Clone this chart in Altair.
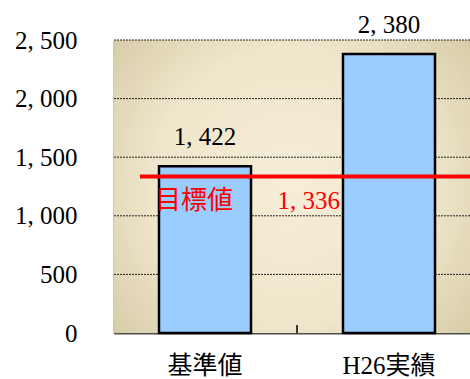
import altair as alt
import pandas as pd

categories = ["基準値", "H26実績"]
values = [1422, 2380]
target_value = 1336
target_name = "目標値"
y_ticks = [0, 500, 1000, 1500, 2000, 2500]

SERIF = "Liberation Serif, Noto Sans CJK JP"
FMT = "replace(format(datum.value, ','), ',', ',\u00a0')"

bars_df = pd.DataFrame({"cat": categories, "value": values})
target_df = pd.DataFrame({"value": [target_value], "name": [target_name]})
grid_df = pd.DataFrame({"value": y_ticks})

xscale = alt.Scale(domain=categories, paddingInner=0.5, paddingOuter=0.2174,
                   align=0.5625, round=False)
yscale = alt.Scale(domain=[0, 2500], nice=False)

x_axis = alt.Axis(title=None, labelFont=SERIF, labelFontSize=25, labelColor="black",
                  labelPadding=20, ticks=False, domainColor="#4d4d4d", domainWidth=2,
                  labelAngle=0, grid=False)
y_axis = alt.Axis(title=None, values=y_ticks,
                  labelExpr=FMT,
                  labelFont=SERIF, labelFontSize=25, labelColor="black",
                  labelPadding=37, ticks=False, domainColor="#222222", domainWidth=1.5,
                  grid=False)

bg_grad = alt.RadialGradient(
    gradient="radial", x1=0.5, y1=0.5, r1=0, x2=0.5, y2=0.5, r2=0.72,
    stops=[
        alt.GradientStop(offset=0, color="#F7EED8"),
        alt.GradientStop(offset=0.55, color="#EEE5CA"),
        alt.GradientStop(offset=1, color="#D2C59E"),
    ],
)

background = alt.Chart(pd.DataFrame({"k": [0]})).mark_rect(color=bg_grad).encode(
    x=alt.value(0), x2=alt.value(356), y=alt.value(0), y2=alt.value(293)
)

gridlines = alt.Chart(grid_df).transform_filter(alt.datum.value > 0).mark_rule(
    color="#222222", strokeDash=[2, 1], strokeWidth=1
).encode(
    y=alt.Y("value:Q", scale=yscale, axis=y_axis),
)

base = alt.Chart(bars_df)

bars = base.mark_bar(color="#99CCFF", stroke="black", strokeWidth=2.5).encode(
    x=alt.X("cat:N", scale=xscale, axis=x_axis, sort=categories),
    y=alt.Y("value:Q", scale=yscale, axis=y_axis),
)

labels = base.transform_calculate(
    lbl=FMT
).mark_text(font=SERIF, fontSize=25, color="black", baseline="bottom", dy=-16).encode(
    x=alt.X("cat:N", scale=xscale, sort=categories, bandPosition=0.5),
    y=alt.Y("value:Q", scale=yscale, axis=y_axis),
    text="lbl:N",
)

tick = alt.Chart(pd.DataFrame({"k": [0]})).mark_rule(color="black", strokeWidth=1.5).encode(
    x=alt.value(183),
    y=alt.value(285),
    y2=alt.value(293),
)

target_line = alt.Chart(target_df).mark_rule(color="#FF0000", strokeWidth=4).encode(
    y=alt.Y("value:Q", scale=yscale, axis=y_axis),
    x=alt.value(26),
    x2=alt.value(356),
)

target_name_text = alt.Chart(target_df).transform_calculate(
    cat=f"'{categories[0]}'"
).mark_text(
    font=SERIF, fontSize=26, color="#FF0000", align="left", baseline="middle", dx=-4, dy=25
).encode(
    x=alt.X("cat:N", scale=xscale, sort=categories, bandPosition=0),
    y=alt.Y("value:Q", scale=yscale, axis=y_axis),
    text="name:N",
)

target_val_text = alt.Chart(target_df).transform_calculate(
    cat=f"'{categories[1]}'",
    lbl=FMT,
).mark_text(
    font=SERIF, fontSize=25, color="#FF0000", align="right", baseline="middle", dx=-3, dy=25
).encode(
    x=alt.X("cat:N", scale=xscale, sort=categories, bandPosition=0),
    y=alt.Y("value:Q", scale=yscale, axis=y_axis),
    text="lbl:N",
)

chart = alt.layer(background, gridlines, bars, labels, tick, target_line,
                  target_name_text, target_val_text).properties(
    width=356, height=293,
    autosize=alt.AutoSizeParams(type="none"),
    padding={"left": 114, "top": 40, "right": 0, "bottom": 46},
).configure_view(stroke=None).configure(background="white")

chart.save("out.html", embed_options={"renderer": "svg", "actions": False})
